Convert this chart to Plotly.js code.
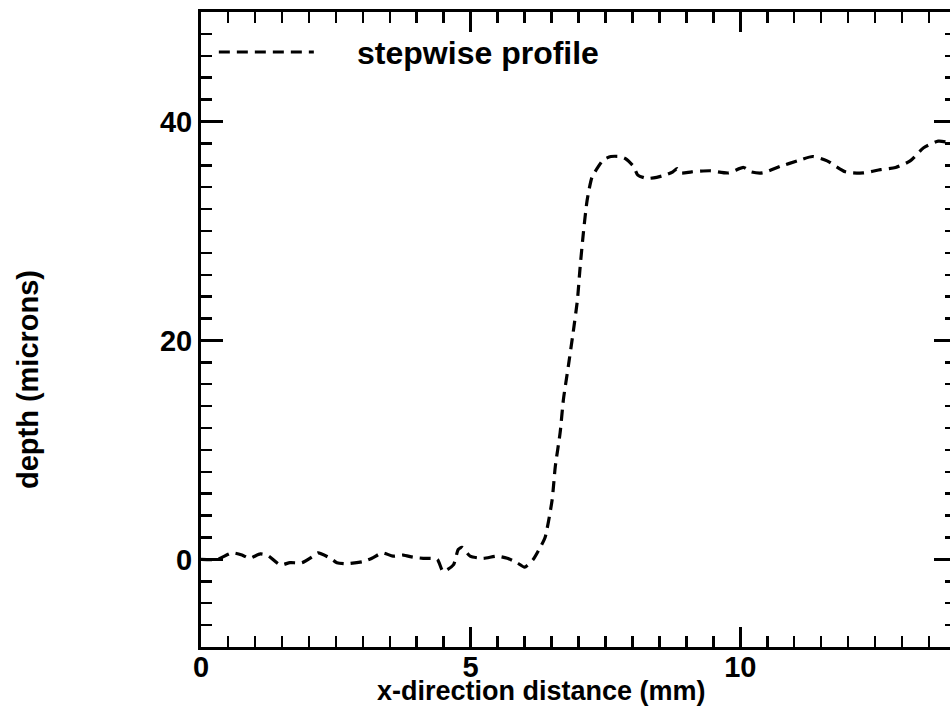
<!DOCTYPE html>
<html>
<head>
<meta charset="utf-8">
<script src="https://cdn.plot.ly/plotly-3.0.1.min.js"></script>
<style>
html,body{margin:0;padding:0;background:#fff;overflow:hidden;}
#chart{width:961px;height:717px;}
</style>
</head>
<body>
<div id="chart"></div>
<script>
// x-direction distance (mm)
const xDist = [0, 0.3, 0.58, 0.76, 0.9, 1.1, 1.24, 1.47, 1.65, 1.87, 2.08, 2.17, 2.4, 2.52, 2.7, 3.0, 3.17, 3.36, 3.56, 3.75, 3.93, 4.12, 4.38, 4.49, 4.68, 4.77, 4.84, 4.99, 5.23, 5.49, 5.68, 5.86, 6.0, 6.16, 6.29, 6.38, 6.51, 6.57, 6.66, 6.72, 6.81, 6.9, 6.98, 7.03, 7.09, 7.16, 7.25, 7.37, 7.46, 7.6, 7.77, 7.87, 8.02, 8.1, 8.27, 8.45, 8.6, 8.75, 8.83, 8.89, 9.1, 9.44, 9.78, 10.06, 10.2, 10.41, 10.74, 11.06, 11.34, 11.61, 11.95, 12.28, 12.6, 12.88, 13.15, 13.4, 13.67, 13.84, 14.0];
// depth (microns)
const depth = [0.0, 0.0, 0.6, 0.4, 0.1, 0.5, 0.35, -0.5, -0.3, -0.3, 0.3, 0.6, 0.1, -0.3, -0.4, -0.2, 0.1, 0.6, 0.3, 0.4, 0.2, 0.1, 0.0, -1.1, -0.5, 0.9, 1.1, 0.3, 0.1, 0.3, 0.1, -0.3, -0.7, 0.0, 1.1, 2.0, 5.4, 8.5, 11.6, 14.6, 17.6, 20.7, 23.7, 26.7, 29.8, 32.8, 34.9, 35.9, 36.5, 36.8, 36.8, 36.6, 35.9, 35.1, 34.8, 34.9, 35.1, 35.4, 35.7, 35.3, 35.4, 35.5, 35.3, 35.8, 35.4, 35.3, 35.9, 36.4, 36.8, 36.4, 35.4, 35.3, 35.6, 35.8, 36.4, 37.6, 38.2, 38.1, 37.8];
const seriesName = "stepwise profile";
const xTicks = [0, 5, 10];
const yTicks = [0, 20, 40];

const FONT = "Liberation Sans, Arial, Helvetica, sans-serif";

const trace = {
  x: xDist, y: depth, type: "scatter", mode: "lines",
  name: "\u00a0\u00a0\u00a0\u00a0\u200a" + seriesName,
  line: {color: "#000", width: 3.2, dash: "11px,7px", shape: "spline", smoothing: 0.6},
  showlegend: true
};

const axisCommon = {
  showgrid: false, zeroline: false, showline: true, linecolor: "#000", linewidth: 3,
  mirror: "ticks", ticks: "inside", tickcolor: "#000", tickwidth: 2.5,
  tickfont: {family: FONT, size: 29, color: "#000", weight: 700}
};

const layout = {
  width: 961, height: 717,
  margin: {l: 201, r: 5, t: 12, b: 70},
  paper_bgcolor: "#fff", plot_bgcolor: "#fff",
  font: {family: FONT, color: "#000", weight: 700},
  xaxis: Object.assign({}, axisCommon, {
    range: [0, 14], tickvals: xTicks, ticktext: xTicks.map(String), ticklen: 20,
    ticklabelstandoff: -8,
    minor: {dtick: 0.5, ticks: "inside", ticklen: 11, tickwidth: 2.5, tickcolor: "#000", showgrid: false}
  }),
  yaxis: Object.assign({}, axisCommon, {
    range: [-8, 50], tickvals: yTicks, ticktext: yTicks.map(String), ticklen: 22,
    minor: {dtick: 2, ticks: "inside", ticklen: 11, tickwidth: 2.5, tickcolor: "#000", showgrid: false}
  }),
  showlegend: true,
  legend: {
    x: 0.017, y: 0.98, xanchor: "left", yanchor: "top",
    bgcolor: "rgba(0,0,0,0)", borderwidth: 0, itemwidth: 95,
    font: {family: FONT, size: 32, color: "#000", weight: 700}
  },
  annotations: [
    {text: "x-direction distance (mm)", xref: "paper", yref: "paper", x: 0.4506, y: -0.0695,
     xanchor: "center", yanchor: "middle", showarrow: false,
     font: {family: FONT, size: 27, color: "#000", weight: 700}},
    {text: "depth (microns)", xref: "paper", yref: "paper", x: -0.229, y: 0.4205,
     xanchor: "center", yanchor: "middle", showarrow: false, textangle: -90,
     font: {family: FONT, size: 29, color: "#000", weight: 700}}
  ]
};

Plotly.newPlot("chart", [trace], layout, {displayModeBar: false, staticPlot: true});
</script>
</body>
</html>
